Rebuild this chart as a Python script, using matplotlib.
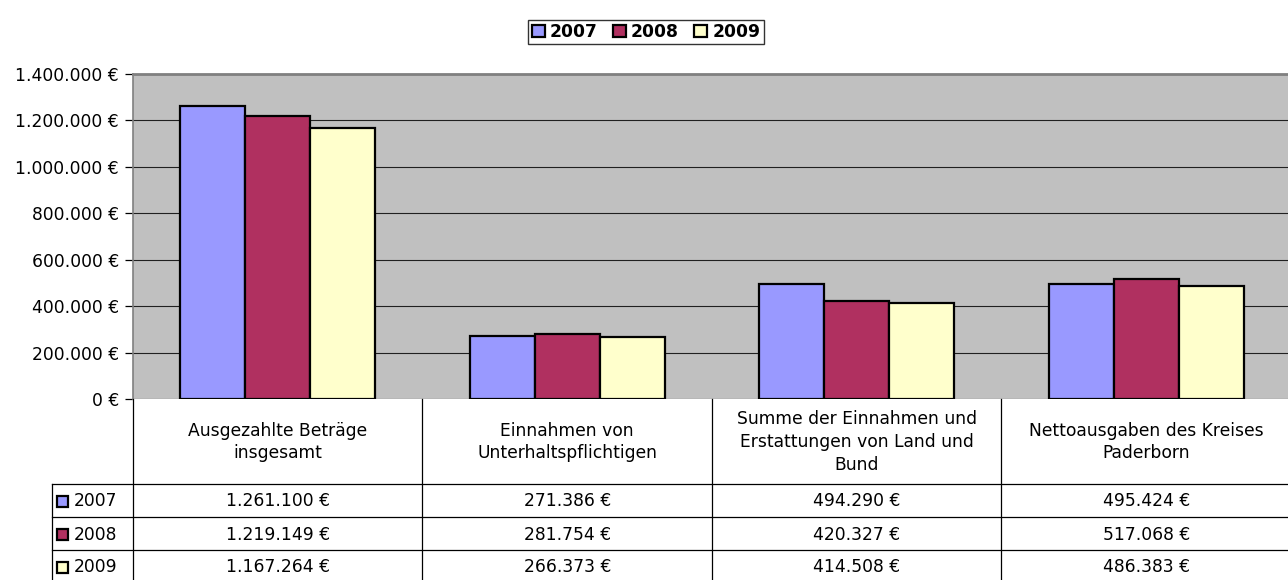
import matplotlib
matplotlib.use("Agg")
import matplotlib.pyplot as plt
from matplotlib.patches import Rectangle
from matplotlib.lines import Line2D
import numpy as np

plt.rcParams['font.family'] = ['DejaVu Sans']

categories = ["Ausgezahlte Beträge\ninsgesamt",
              "Einnahmen von\nUnterhaltspflichtigen",
              "Summe der Einnahmen und\nErstattungen von Land und\nBund",
              "Nettoausgaben des Kreises\nPaderborn"]
years = ["2007", "2008", "2009"]
v2007 = [1261100, 271386, 494290, 495424]
v2008 = [1219149, 281754, 420327, 517068]
v2009 = [1167264, 266373, 414508, 486383]
series = [v2007, v2008, v2009]
colors = ["#9999FF", "#B03060", "#FFFFCC"]
yticks = [0, 200000, 400000, 600000, 800000, 1000000, 1200000, 1400000]

FS = 12.3


def fmt(v):
    return "{:,}".format(int(v)).replace(",", ".") + " €"


W, H = 1288, 580
fig = plt.figure(figsize=(W / 100, H / 100), dpi=100)
fig.patch.set_facecolor("white")

x0, x1 = 133, 1291
ytop, ybot = 74, 399
ax = fig.add_axes([x0 / W, 1 - ybot / H, (x1 - x0) / W, (ybot - ytop) / H])
ax.set_facecolor("#C0C0C0")
n = len(categories)
xs = np.arange(n)
bw = 0.224
for i, (vals, c, y) in enumerate(zip(series, colors, years)):
    ax.bar(xs + (i - 1) * bw, vals, width=bw, color=c, edgecolor="black",
           linewidth=1.6, label=y, zorder=3)
ax.set_xlim(-0.5, n - 0.5)
ax.set_ylim(0, 1400000)
ax.set_yticks(yticks)
ax.set_yticklabels([fmt(t) for t in yticks], fontsize=FS)
ax.yaxis.grid(True, color="#202020", linewidth=0.8, zorder=1)
ax.set_xticks([])
ax.tick_params(axis="y", direction="out", length=6, width=0.9, pad=4)
for s in ["right", "bottom"]:
    ax.spines[s].set_visible(False)
ax.spines["top"].set_color("#808080")
ax.spines["top"].set_linewidth(2)
ax.spines["left"].set_color("#808080")
ax.spines["left"].set_linewidth(1.2)

# Legend
handles = [Rectangle((0, 0), 1, 1, facecolor=c, edgecolor="black", linewidth=1.6) for c in colors]
leg = fig.legend(handles, years, loc="center", bbox_to_anchor=(646 / W, 1 - 32 / H),
                 ncol=3, frameon=True, fancybox=False,
                 prop={"weight": "bold", "size": FS},
                 handlelength=0.75, handleheight=0.75, handletextpad=0.3,
                 columnspacing=0.9, borderpad=0.2, borderaxespad=0)
leg.get_frame().set_edgecolor("black")
leg.get_frame().set_linewidth(1.0)

# Data table drawn in pixel coordinates
ov = fig.add_axes([0, 0, 1, 1])
ov.set_xlim(0, W)
ov.set_ylim(H, 0)
ov.axis("off")
ov.patch.set_alpha(0)

cw = (x1 - x0) / n
col_edges = [x0 + k * cw for k in range(n + 1)]
hdr_bot = 484
row_h = 33
row_lines = [hdr_bot + k * row_h for k in range(len(years) + 1)]
lc = "black"
lw = 0.9
for xe in col_edges:
    ov.add_line(Line2D([xe, xe], [ybot, H], color=lc, linewidth=lw))
ov.add_line(Line2D([52, 52], [hdr_bot, H], color=lc, linewidth=lw))
for yl in row_lines:
    ov.add_line(Line2D([52, x1], [yl, yl], color=lc, linewidth=lw))

for k, cat in enumerate(categories):
    cx = (col_edges[k] + col_edges[k + 1]) / 2
    ov.text(cx, 442, cat, ha="center", va="center", fontsize=FS, linespacing=1.35)

for r, (y, c, vals) in enumerate(zip(years, colors, series)):
    cy = hdr_bot + r * row_h + row_h / 2
    ov.add_patch(Rectangle((57, cy - 5), 11, 11, facecolor=c, edgecolor="black", linewidth=1.6))
    ov.text(74, cy + 1, y, ha="left", va="center", fontsize=FS)
    for k, v in enumerate(vals):
        cx = (col_edges[k] + col_edges[k + 1]) / 2
        ov.text(cx, cy + 1, fmt(v), ha="center", va="center", fontsize=FS)

fig.savefig("out.png", dpi=100)
